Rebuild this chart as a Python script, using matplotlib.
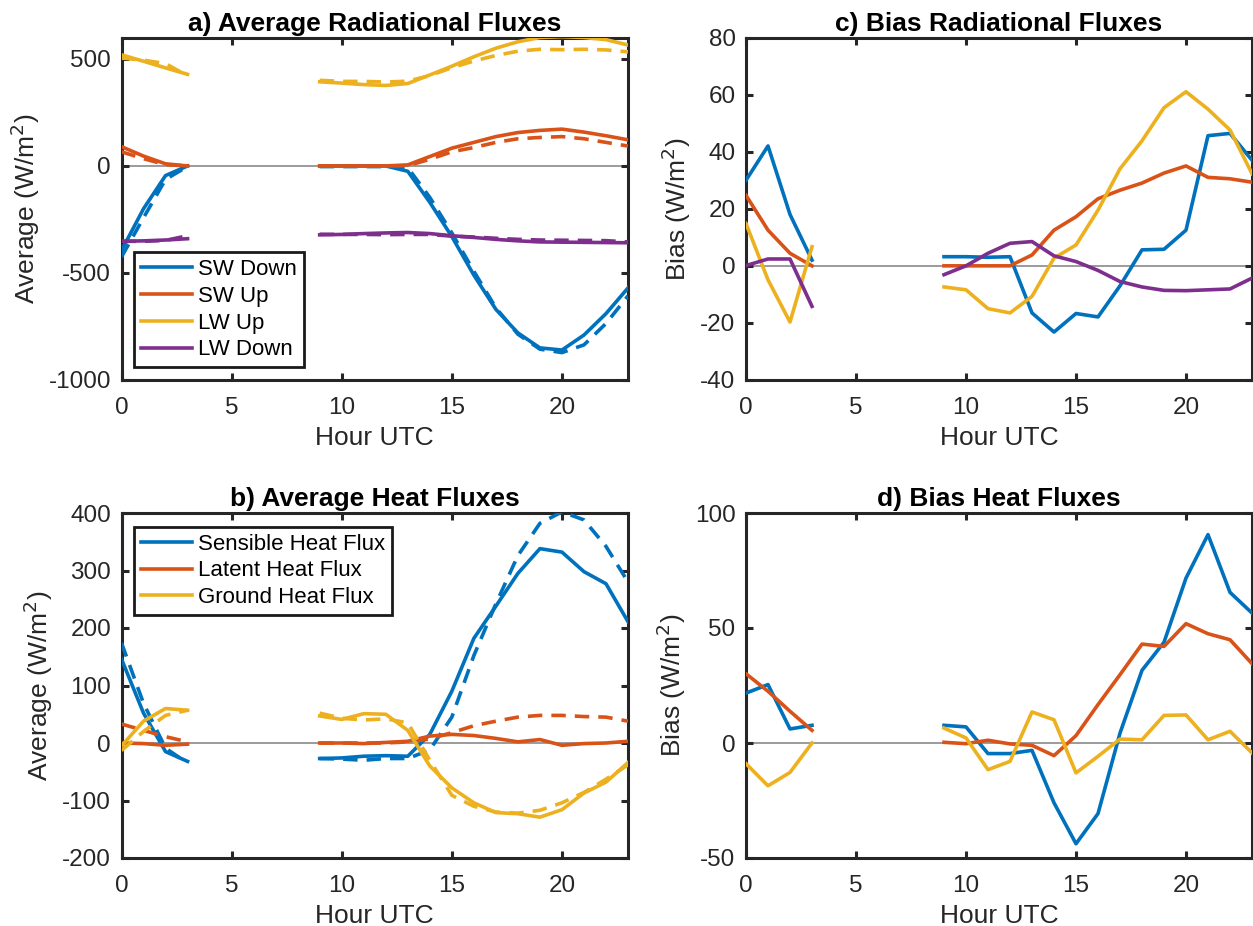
import numpy as np
import matplotlib
matplotlib.use("Agg")
import matplotlib.pyplot as plt

plt.rcParams.update({
    "font.family": ["Liberation Sans", "DejaVu Sans"],
    "axes.unicode_minus": False,
    "font.size": 17,
})

# ---------------- data ----------------
nan = np.nan
hours = np.arange(24)

# a) average radiational fluxes (solid = model, dashed = obs)
sw_down_mod = [-395, -200, -45, 0, nan, nan, nan, nan, nan, 0, 0, 0, 0, -25, -170, -330, -510, -670, -780, -850, -860, -790, -690, -570]
sw_down_obs = [-425, -242, -63, -2, nan, nan, nan, nan, nan, -3, -3, -3, -3, -8, -147, -313, -492, -663, -786, -856, -872, -836, -736, -607]
sw_up_mod = [90, 46, 10, 0, nan, nan, nan, nan, nan, 0, 0, 0, 0, 5, 44, 83, 110, 137, 156, 166, 172, 158, 141, 122]
sw_up_obs = [66, 34, 6, 0, nan, nan, nan, nan, nan, 0, 0, 0, 0, 1, 31, 66, 86, 110, 127, 133, 137, 127, 110, 93]
lw_up_mod = [519, 489, 458, 428, nan, nan, nan, nan, nan, 393, 387, 380, 376, 385, 425, 466, 510, 550, 580, 600, 604, 600, 590, 565]
lw_up_obs = [504, 494, 478, 421, nan, nan, nan, nan, nan, 400, 395, 395, 392, 396, 422, 459, 490, 516, 536, 545, 543, 545, 542, 533]
lw_down_mod = [-352, -350, -346, -340, nan, nan, nan, nan, nan, -322, -320, -316, -313, -311, -316, -326, -334, -343, -350, -355, -356, -357, -358, -359]
lw_down_obs = [-352, -352, -348, -326, nan, nan, nan, nan, nan, -319, -320, -320, -321, -320, -320, -328, -332, -338, -343, -346, -347, -348, -349, -355]

# c) bias radiational fluxes
sw_down_bias = [30, 42, 18, 2, nan, nan, nan, nan, nan, 3.2, 3.2, 3, 3.2, -16.5, -23.2, -16.7, -17.9, -7, 5.6, 5.8, 12.5, 45.6, 46.4, 37]
sw_up_bias = [24.7, 12.5, 4.4, 0, nan, nan, nan, nan, nan, 0, 0, 0, 0, 3.8, 12.5, 17.2, 23.5, 26.5, 29, 32.5, 35, 31, 30.5, 29.3]
lw_up_bias = [14.8, -4.9, -19.7, 6.7, nan, nan, nan, nan, nan, -7.4, -8.4, -15, -16.5, -10.7, 2.7, 7.3, 19.5, 34, 43.8, 55.4, 61, 54.9, 47.6, 32.3]
lw_down_bias = [0.1, 2.4, 2.4, -14.2, nan, nan, nan, nan, nan, -3.1, 0, 4.4, 7.9, 8.5, 3.5, 1.5, -1.6, -5.5, -7.4, -8.6, -8.7, -8.4, -8.1, -4.3]

# b) average heat fluxes
sh_mod = [146, 52, -15, -32, nan, nan, nan, nan, nan, -27, -26, -23, -22, -23, 15, 90, 182, 238, 295, 338, 332, 298, 277, 211]
sh_obs = [174, 69, -9, -35, nan, nan, nan, nan, nan, -27, -28, -30, -27, -27, -12, 45, 152, 242, 326, 382, 402, 388, 342, 280]
lh_mod = [0, -1, -4, -2, nan, nan, nan, nan, nan, 0, 0, -1, 1, 3, 12, 15, 13, 8, 2, 6, -4, -1, 0, 3]
lh_obs = [33, 22, 11, 2, nan, nan, nan, nan, nan, 0, 0, 0, 0, 2, 7, 18, 30, 38, 45, 48, 48, 46, 45, 38]
gh_mod = [-5, 38, 60, 57, nan, nan, nan, nan, nan, 47, 41, 51, 50, 22, -40, -78, -104, -121, -123, -129, -116, -87, -68, -34]
gh_obs = [-13, 20, 48, 57, nan, nan, nan, nan, nan, 52, 43, 40, 42, 35, -30, -91, -110, -120, -122, -117, -104, -86, -63, -38]

# d) bias heat fluxes
sh_bias = [21.7, 25.4, 6.1, 7.7, nan, nan, nan, nan, nan, 7.7, 7, -4.6, -4.6, -3.2, -26, -43.8, -30.7, 4.3, 31.6, 43.8, 71.7, 90.6, 65.5, 56.5]
lh_bias = [30.1, 22.5, 13.8, 5.5, nan, nan, nan, nan, nan, 0.3, -0.3, 1.2, -0.4, -1, -5.5, 3.2, 16.7, 29.7, 43, 42, 51.9, 47.5, 44.9, 34.5]
gh_bias = [-9, -18.6, -12.8, 0, nan, nan, nan, nan, nan, 6.5, 2.2, -11.6, -8, 13.5, 10.1, -13, -5.8, 1.7, 1.4, 12, 12.2, 1.4, 5.1, -4.3]

rad_labels = ["SW Down", "SW Up", "LW Up", "LW Down"]
heat_labels = ["Sensible Heat Flux", "Latent Heat Flux", "Ground Heat Flux"]

# matlab default colours
C = ["#0072BD", "#D95319", "#EDB120", "#7E2F8E"]
LW = 2.6
DASH = (0, (4.0, 2.5))

# ---------------- figure ----------------
W, H = 1253, 926
fig = plt.figure(figsize=(W / 100, H / 100), dpi=100)


def px_axes(l, t, r, b):
    return fig.add_axes([l / W, 1 - b / H, (r - l) / W, (b - t) / H])


def style(ax, ylim, yticks, title, ylabel):
    ax.set_xlim(0, 23)
    ax.set_ylim(*ylim)
    ax.set_xticks([0, 5, 10, 15, 20])
    ax.set_yticks(yticks)
    ax.axhline(0, color="#808080", lw=1.1, zorder=1)
    for s in ax.spines.values():
        s.set_linewidth(2.2)
        s.set_color("#262626")
    ax.tick_params(direction="in", length=5, width=2.2, color="#262626",
                   top=True, right=True, labelsize=17.5,
                   labelcolor="#262626")
    ax.tick_params(axis="x", pad=12)
    ax.tick_params(axis="y", pad=7.5)
    ax.set_title(title, fontsize=19, fontweight="bold", pad=5)
    ax.set_xlabel("Hour UTC", fontsize=19, color="#262626", labelpad=5)
    ax.set_ylabel(ylabel, fontsize=19, color="#262626", labelpad=5)


def legend(ax, handles, loc, anchor):
    leg = ax.legend(handles=handles, loc=loc, bbox_to_anchor=anchor,
                    borderaxespad=0, fontsize=16, handlelength=2.3,
                    handletextpad=0.3, labelspacing=0.26, borderpad=0.3,
                    fancybox=False, framealpha=1, edgecolor="#1a1a1a")
    leg.get_frame().set_linewidth(2.0)


ax_a = px_axes(121.5, 37.5, 628, 380)
ax_b = px_axes(121.5, 513, 628, 858)
ax_c = px_axes(746, 37.5, 1252, 380)
ax_d = px_axes(746, 513, 1252, 858)

# a)
handles = []
for mod, obs, col, lab in zip([sw_down_mod, sw_up_mod, lw_up_mod, lw_down_mod],
                              [sw_down_obs, sw_up_obs, lw_up_obs, lw_down_obs],
                              C, rad_labels):
    h, = ax_a.plot(hours, mod, color=col, lw=LW, label=lab, zorder=3)
    ax_a.plot(hours, obs, color=col, lw=LW, ls=DASH, zorder=3)
    handles.append(h)
style(ax_a, (-1000, 600), [-1000, -500, 0, 500],
      "a) Average Radiational Fluxes", "Average (W/m$^2$)")
legend(ax_a, handles, "lower left",
       ((134 - 121.5) / 506.5, (380 - 367) / 342.5))

# b)
handles = []
for mod, obs, col, lab in zip([sh_mod, lh_mod, gh_mod], [sh_obs, lh_obs, gh_obs],
                              C, heat_labels):
    h, = ax_b.plot(hours, mod, color=col, lw=LW, label=lab, zorder=3)
    ax_b.plot(hours, obs, color=col, lw=LW, ls=DASH, zorder=3)
    handles.append(h)
style(ax_b, (-200, 400), [-200, -100, 0, 100, 200, 300, 400],
      "b) Average Heat Fluxes", "Average (W/m$^2$)")
legend(ax_b, handles, "upper left",
       ((134 - 121.5) / 506.5, 1 - (527 - 513) / 345))

# c)
for vals, col in zip([sw_down_bias, sw_up_bias, lw_up_bias, lw_down_bias], C):
    ax_c.plot(hours, vals, color=col, lw=LW, zorder=3)
style(ax_c, (-40, 80), [-40, -20, 0, 20, 40, 60, 80],
      "c) Bias Radiational Fluxes", "Bias (W/m$^2$)")

# d)
for vals, col in zip([sh_bias, lh_bias, gh_bias], C):
    ax_d.plot(hours, vals, color=col, lw=LW, zorder=3)
style(ax_d, (-50, 100), [-50, 0, 50, 100],
      "d) Bias Heat Fluxes", "Bias (W/m$^2$)")

fig.savefig("out.png", dpi=100)
